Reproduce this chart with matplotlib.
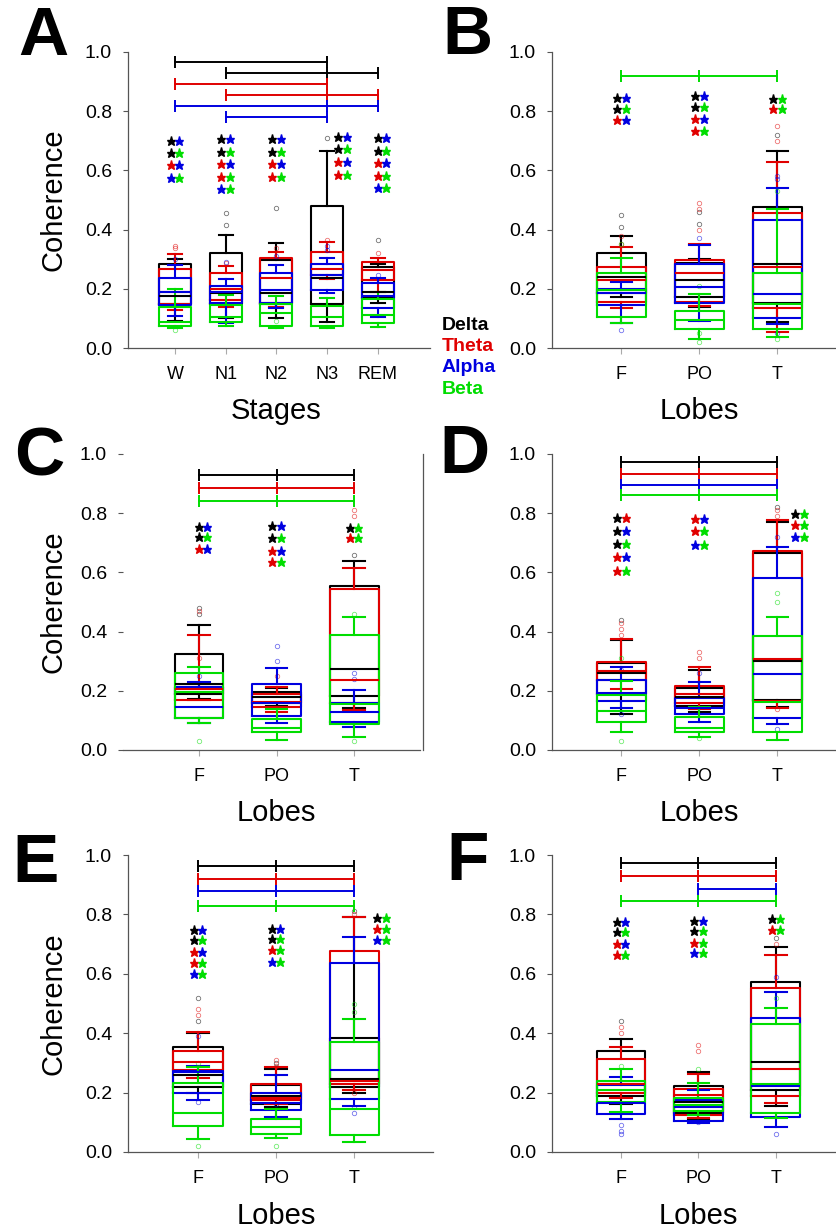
import matplotlib
matplotlib.use('Agg')
import matplotlib.pyplot as plt
from matplotlib.transforms import blended_transform_factory, offset_copy

plt.rcParams['font.family'] = ['Liberation Sans', 'DejaVu Sans']

BANDS = ['Delta', 'Theta', 'Alpha', 'Beta']
COL = {'Delta': '#000000', 'Theta': '#e00000', 'Alpha': '#0000e0', 'Beta': '#00dd00'}
STAR_COL = {'k': '#000000', 'r': '#e00000', 'b': '#0000e0', 'g': '#00dd00'}

stages = ['W', 'N1', 'N2', 'N3', 'REM']
lobes = ['F', 'PO', 'T']

# box values per category: (whisker low, q1, median, q3, whisker high)
A_delta = [(0.09, 0.15, 0.175, 0.285, 0.30), (0.10, 0.15, 0.187, 0.320, 0.382), (0.10, 0.15, 0.187, 0.297, 0.354),
           (0.089, 0.149, 0.235, 0.480, 0.667), (0.151, 0.17, 0.19, 0.275, 0.284)]
A_theta = [(0.128, 0.15, 0.19, 0.266, 0.316), (0.137, 0.162, 0.20, 0.255, 0.277), (0.14, 0.151, 0.235, 0.303, 0.325),
           (0.232, 0.245, 0.268, 0.323, 0.357), (0.19, 0.23, 0.265, 0.292, 0.305)]
A_alpha = [(0.108, 0.145, 0.19, 0.235, 0.279), (0.083, 0.151, 0.19, 0.211, 0.232), (0.134, 0.151, 0.196, 0.255, 0.28),
           (0.185, 0.196, 0.245, 0.284, 0.303), (0.106, 0.134, 0.176, 0.221, 0.235)]
A_beta = [(0.066, 0.074, 0.089, 0.14, 0.20), (0.075, 0.089, 0.106, 0.145, 0.18), (0.066, 0.074, 0.117, 0.148, 0.176),
          (0.066, 0.074, 0.106, 0.142, 0.17), (0.072, 0.086, 0.111, 0.164, 0.19)]
A_fliers = {'Delta': [[], [0.415, 0.456], [0.472], [0.709], [0.365]],
            'Theta': [[0.337, 0.345], [0.287], [0.337], [0.365], [0.32]],
            'Alpha': [[0.30], [0.29], [0.31], [0.33, 0.345], [0.245]],
            'Beta': [[0.06], [], [0.09], [], []]}

B_delta = [(0.173, 0.187, 0.241, 0.320, 0.378), (0.14, 0.173, 0.23, 0.286, 0.30), (0.089, 0.151, 0.283, 0.477, 0.667)]
B_theta = [(0.136, 0.157, 0.23, 0.272, 0.34), (0.142, 0.157, 0.255, 0.297, 0.351), (0.055, 0.134, 0.275, 0.457, 0.63)]
B_alpha = [(0.086, 0.145, 0.185, 0.198, 0.224), (0.092, 0.153, 0.205, 0.283, 0.348), (0.081, 0.102, 0.182, 0.432, 0.539)]
B_beta = [(0.086, 0.106, 0.196, 0.252, 0.303), (0.029, 0.064, 0.095, 0.125, 0.182), (0.038, 0.064, 0.15, 0.255, 0.468)]
B_fliers = {'Delta': [[0.41, 0.45], [0.42, 0.46], [0.72]],
            'Theta': [[0.35, 0.38], [0.40, 0.47, 0.49], [0.70, 0.75]],
            'Alpha': [[0.06], [0.37], [0.57, 0.58, 0.05]],
            'Beta': [[0.35], [0.02, 0.05, 0.21], [0.53, 0.03]]}

C_delta = [(0.171, 0.189, 0.223, 0.324, 0.422), (0.15, 0.158, 0.18, 0.197, 0.21), (0.143, 0.182, 0.272, 0.555, 0.64)]
C_theta = [(0.169, 0.169, 0.205, 0.214, 0.389), (0.13, 0.146, 0.163, 0.189, 0.214), (0.135, 0.158, 0.236, 0.544, 0.614)]
C_alpha = [(0.092, 0.109, 0.146, 0.214, 0.231), (0.092, 0.116, 0.158, 0.223, 0.278), (0.079, 0.096, 0.13, 0.158, 0.203)]
C_beta = [(0.092, 0.107, 0.197, 0.261, 0.282), (0.034, 0.062, 0.073, 0.104, 0.137), (0.045, 0.087, 0.155, 0.389, 0.448)]
C_fliers = {'Delta': [[0.46, 0.48], [], [0.66]],
            'Theta': [[0.31, 0.47], [0.25], [0.79, 0.81]],
            'Alpha': [[0.25], [0.30, 0.35], [0.24, 0.26]],
            'Beta': [[0.03], [], [0.46, 0.03]]}

D_delta = [(0.12, 0.19, 0.26, 0.295, 0.37), (0.13, 0.15, 0.18, 0.21, 0.27), (0.145, 0.17, 0.30, 0.665, 0.77)]
D_theta = [(0.206, 0.236, 0.268, 0.298, 0.374), (0.137, 0.16, 0.189, 0.217, 0.282), (0.141, 0.167, 0.307, 0.672, 0.776)]
D_alpha = [(0.141, 0.167, 0.194, 0.236, 0.282), (0.096, 0.122, 0.141, 0.175, 0.229), (0.087, 0.107, 0.257, 0.58, 0.687)]
D_beta = [(0.06, 0.096, 0.133, 0.186, 0.233), (0.043, 0.062, 0.073, 0.113, 0.144), (0.034, 0.06, 0.163, 0.385, 0.45)]
D_fliers = {'Delta': [[0.44], [], [0.82]],
            'Theta': [[0.39, 0.41, 0.43], [0.31, 0.33], [0.79, 0.81, 0.14]],
            'Alpha': [[0.12, 0.27], [0.26], [0.72, 0.07]],
            'Beta': [[0.03, 0.31], [0.04], [0.50, 0.53]]}

E_delta = [(0.20, 0.22, 0.26, 0.355, 0.40), (0.15, 0.16, 0.19, 0.225, 0.28), (0.20, 0.22, 0.245, 0.383, 0.79)]
E_theta = [(0.248, 0.276, 0.304, 0.340, 0.405), (0.162, 0.175, 0.183, 0.229, 0.285), (0.21, 0.228, 0.239, 0.678, 0.79)]
E_alpha = [(0.175, 0.198, 0.27, 0.274, 0.291), (0.119, 0.141, 0.164, 0.198, 0.259), (0.154, 0.178, 0.276, 0.635, 0.723)]
E_beta = [(0.044, 0.088, 0.132, 0.233, 0.285), (0.046, 0.061, 0.083, 0.11, 0.144), (0.033, 0.057, 0.144, 0.369, 0.448)]
E_fliers = {'Delta': [[0.44, 0.52], [0.30], [0.81]],
            'Theta': [[0.46, 0.48], [0.29, 0.31], [0.80, 0.20]],
            'Alpha': [[0.39, 0.17], [0.16], [0.13, 0.15]],
            'Beta': [[0.02, 0.30], [0.02], [0.47, 0.50]]}

F_delta = [(0.16, 0.19, 0.23, 0.341, 0.38), (0.11, 0.13, 0.17, 0.222, 0.27), (0.155, 0.209, 0.302, 0.574, 0.69)]
F_theta = [(0.181, 0.198, 0.229, 0.312, 0.355), (0.116, 0.125, 0.192, 0.211, 0.263), (0.166, 0.189, 0.278, 0.553, 0.663)]
F_alpha = [(0.11, 0.128, 0.166, 0.226, 0.254), (0.097, 0.105, 0.15, 0.175, 0.21), (0.083, 0.119, 0.223, 0.45, 0.54)]
F_beta = [(0.136, 0.169, 0.209, 0.239, 0.279), (0.125, 0.139, 0.158, 0.181, 0.233), (0.113, 0.13, 0.229, 0.43, 0.486)]
F_fliers = {'Delta': [[0.44], [], [0.72]],
            'Theta': [[0.40, 0.42], [0.34, 0.36], [0.70]],
            'Alpha': [[0.06, 0.07, 0.09], [0.10], [0.06, 0.59]],
            'Beta': [[0.29], [0.28], [0.52]]}

# significance brackets: (band, category positions, height)
A_bars = [('Delta', [1, 4], 0.967), ('Delta', [2, 4, 5], 0.93), ('Theta', [1, 4], 0.892),
          ('Theta', [2, 4, 5], 0.855), ('Alpha', [1, 4, 5], 0.818), ('Alpha', [2, 4], 0.781)]
B_bars = [('Beta', [1, 2, 3], 0.92)]
C_bars = [('Delta', [1, 2, 3], 0.929), ('Theta', [1, 2, 3], 0.886), ('Beta', [1, 2, 3], 0.841)]
D_bars = [('Delta', [1, 2, 3], 0.972), ('Theta', [1, 2, 3], 0.932), ('Alpha', [1, 2, 3], 0.895), ('Beta', [1, 2, 3], 0.861)]
E_bars = [('Delta', [1, 2, 3], 0.962), ('Theta', [1, 2, 3], 0.92), ('Alpha', [1, 2, 3], 0.879), ('Beta', [1, 2, 3], 0.827)]
F_bars = [('Delta', [1, 2, 3], 0.972), ('Theta', [1, 2, 3], 0.93), ('Alpha', [2, 3], 0.884), ('Beta', [1, 2, 3], 0.845)]

# star pairs: (x, y, colour pair)
A_stars = [(1, .698, 'kb'), (1, .659, 'kg'), (1, .617, 'rb'), (1, .575, 'bg'),
           (2, .705, 'kb'), (2, .661, 'kg'), (2, .620, 'rb'), (2, .579, 'rg'), (2, .537, 'bg'),
           (3, .705, 'kb'), (3, .661, 'kg'), (3, .620, 'rb'), (3, .579, 'rg'),
           (4.31, .712, 'kb'), (4.31, .672, 'kg'), (4.31, .628, 'rb'), (4.31, .585, 'rg'),
           (5.08, .708, 'kb'), (5.08, .667, 'kg'), (5.08, .624, 'rb'), (5.08, .582, 'rg'), (5.08, .541, 'bg')]
B_stars = [(1, .845, 'kb'), (1, .809, 'kg'), (1, .771, 'rb'),
           (2, .85, 'kb'), (2, .814, 'kg'), (2, .775, 'rb'), (2, .734, 'rg'),
           (3, .841, 'kg'), (3, .807, 'rg')]
C_stars = [(1.05, .752, 'kb'), (1.05, .718, 'kg'), (1.05, .678, 'rb'),
           (2, .757, 'kb'), (2, .715, 'kg'), (2, .673, 'rb'), (2, .636, 'rg'),
           (3, .751, 'kg'), (3, .715, 'rg')]
D_stars = [(1, .785, 'kr'), (1, .741, 'kb'), (1, .695, 'kg'), (1, .653, 'rb'), (1, .605, 'rg'),
           (2, .78, 'rb'), (2, .74, 'rg'), (2, .694, 'bg'),
           (3.28, .797, 'kg'), (3.28, .76, 'rg'), (3.28, .721, 'bg')]
E_stars = [(1, .746, 'kb'), (1, .713, 'kg'), (1, .673, 'rb'), (1, .636, 'rg'), (1, .598, 'bg'),
           (2, .75, 'kb'), (2, .716, 'kg'), (2, .679, 'rg'), (2, .64, 'bg'),
           (3.35, .788, 'kg'), (3.35, .75, 'rg'), (3.35, .713, 'bg')]
F_stars = [(1, .775, 'kb'), (1, .742, 'kg'), (1, .70, 'rb'), (1, .663, 'rg'),
           (2, .779, 'kb'), (2, .744, 'kg'), (2, .704, 'rg'), (2, .671, 'bg'),
           (3, .784, 'kg'), (3, .749, 'rg')]

W, H = 837, 1232
fig = plt.figure(figsize=(W / 100, H / 100), dpi=100)


def add_ax(left, right, top, bottom):
    return fig.add_axes([left / W, 1 - bottom / H, (right - left) / W, (bottom - top) / H])


def draw_panel(ax, cats, boxes, fliers, bars, stars, xlim, xlabel, label_y, ylabel, side_line=False):
    pos = list(range(1, len(cats) + 1))
    for band in BANDS:
        c = COL[band]
        stats = [dict(whislo=b[0], q1=b[1], med=b[2], q3=b[3], whishi=b[4], fliers=f)
                 for b, f in zip(boxes[band], fliers[band])]
        lp = dict(color=c, lw=1.5)
        ax.bxp(stats, positions=pos, widths=0.63, capwidths=0.28, manage_ticks=False,
               boxprops=lp, medianprops=lp, whiskerprops=lp, capprops=lp,
               flierprops=dict(marker='o', mec=c, mfc='none', ms=3.2, mew=0.6, alpha=0.55))
    for band, xs, y in bars:
        ax.plot(xs, [y] * len(xs), color=COL[band], lw=1.4, marker='|', ms=8, mew=1.4, clip_on=False)
    for x, y, pair in stars:
        for k, code in enumerate(pair):
            tr = offset_copy(ax.transData, fig=fig, x=(-3.1 if k == 0 else 3.1), y=0, units='points')
            ax.plot([x], [y], marker='*', ms=6.5, color=STAR_COL[code], ls='none', transform=tr, clip_on=False)

    # spines first: moving a spine resets the tick settings
    ax.spines['top'].set_visible(False)
    if side_line:
        ax.spines['left'].set_visible(False)
        ax.spines['right'].set_position(('axes', 1.01))
        sp = ['right', 'bottom']
    else:
        ax.spines['right'].set_visible(False)
        sp = ['left', 'bottom']
    for s in sp:
        ax.spines[s].set_color('#555555')
        ax.spines[s].set_linewidth(0.9)

    ax.set_xlim(*xlim)
    ax.set_ylim(0, 1.0)
    ax.set_xticks(pos)
    ax.set_xticklabels(cats, fontsize=13)
    ax.set_yticks([0, 0.2, 0.4, 0.6, 0.8, 1.0])
    ax.set_yticklabels(['0.0', '0.2', '0.4', '0.6', '0.8', '1.0'], fontsize=14)
    ax.tick_params(axis='y', direction='out', length=3.5, width=0.8, color='#555555', pad=8,
                   left=True, right=False, labelleft=True, labelright=False)
    ax.tick_params(axis='x', direction='out', length=4, width=0.8, color='#aaaaaa', pad=9)

    ax.set_xlabel(xlabel, fontsize=21, va='center')
    ax.xaxis.set_label_coords(pos[len(pos) // 2], 1 - label_y / H,
                              transform=blended_transform_factory(ax.transData, fig.transFigure))
    if ylabel:
        ax.set_ylabel('Coherence', fontsize=21, va='center')
        ax.yaxis.set_label_coords(54 / W, 0.5, transform=blended_transform_factory(fig.transFigure, ax.transAxes))


axA = add_ax(128, 430, 52, 348)
draw_panel(axA, stages, {'Delta': A_delta, 'Theta': A_theta, 'Alpha': A_alpha, 'Beta': A_beta}, A_fliers,
           A_bars, A_stars, (0.073, 6.03), 'Stages', 411, True)

axB = add_ax(552, 837, 52, 348)
draw_panel(axB, lobes, {'Delta': B_delta, 'Theta': B_theta, 'Alpha': B_alpha, 'Beta': B_beta}, B_fliers,
           B_bars, B_stars, (0.109, 3.763), 'Lobes', 411, False)

axC = add_ax(123, 420, 454, 750)
draw_panel(axC, lobes, {'Delta': C_delta, 'Theta': C_theta, 'Alpha': C_alpha, 'Beta': C_beta}, C_fliers,
           C_bars, C_stars, (0.019, 3.85), 'Lobes', 813, True, side_line=True)

axD = add_ax(552, 837, 454, 750)
draw_panel(axD, lobes, {'Delta': D_delta, 'Theta': D_theta, 'Alpha': D_alpha, 'Beta': D_beta}, D_fliers,
           D_bars, D_stars, (0.109, 3.763), 'Lobes', 813, False)

axE = add_ax(128, 433, 855, 1152)
draw_panel(axE, lobes, {'Delta': E_delta, 'Theta': E_theta, 'Alpha': E_alpha, 'Beta': E_beta}, E_fliers,
           E_bars, E_stars, (0.103, 4.01), 'Lobes', 1216, True)

axF = add_ax(552, 837, 855, 1152)
draw_panel(axF, lobes, {'Delta': F_delta, 'Theta': F_theta, 'Alpha': F_alpha, 'Beta': F_beta}, F_fliers,
           F_bars, F_stars, (0.11, 3.79), 'Lobes', 1216, False)

# panel letters
for letter, x, y in [('A', 43, 37), ('B', 467, 36), ('C', 39, 457), ('D', 464, 455), ('E', 36, 864), ('F', 468, 862)]:
    fig.text(x / W, 1 - y / H, letter, fontsize=50, fontweight='bold', ha='center', va='center')

# band legend
for i, band in enumerate(BANDS):
    fig.text(442 / W, 1 - (326 + 21 * i) / H, band, fontsize=14, fontweight='bold', color=COL[band],
             ha='left', va='center')

fig.savefig('out.png', dpi=100)
